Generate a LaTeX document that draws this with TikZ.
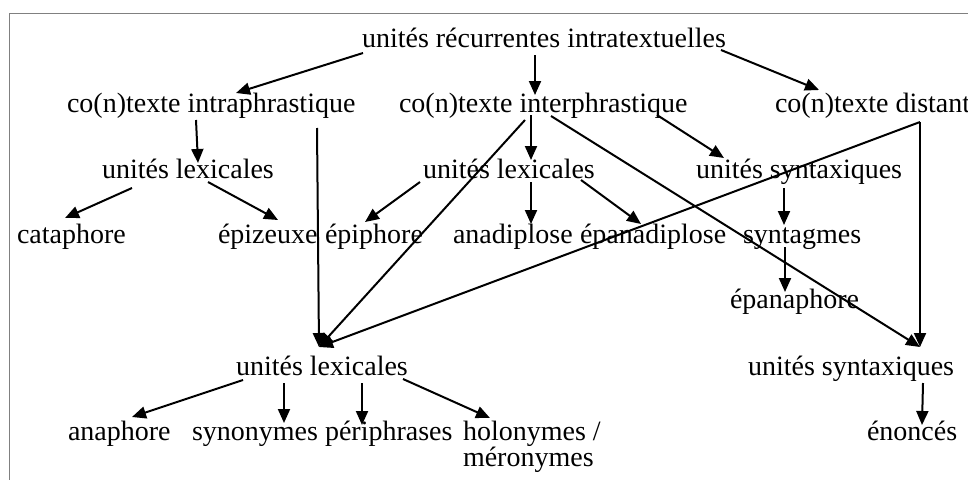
\documentclass[tikz,border=0pt]{standalone}
\usepackage{fontspec}
\setmainfont{Liberation Serif}
\usetikzlibrary{arrows.meta,calc}
\begin{document}
\begin{tikzpicture}[x=1pt,y=-1pt,
  lbl/.style={anchor=base west, inner sep=0pt, outer sep=0pt, font=\fontsize{28}{26}\selectfont},
  arr/.style={line width=2pt, -{Triangle[length=14pt,width=12pt]}}]
\useasboundingbox (0,0) rectangle (968,479);
\fill[white] (0,0) rectangle (968,479);
\draw[line width=1pt, color=black!50] (9,481) -- (9,13) -- (970,13);
% nodes
\node[lbl] (N1) at (362,47) {unités récurrentes intratextuelles};
\node[lbl] (N2) at (67,112) {co(n)texte intraphrastique};
\node[lbl] (N3) at (399,112) {co(n)texte interphrastique};
\node[lbl] (N4) at (775,112) {co(n)texte distant};
\node[lbl] (N5) at (102,178) {unités lexicales};
\node[lbl] (N6) at (423,178) {unités lexicales};
\node[lbl] (N7) at (696,178) {unités syntaxiques};
\node[lbl] (N8) at (17,243) {cataphore};
\node[lbl] (N9) at (218,243) {épizeuxe};
\node[lbl] (N10) at (325,243) {épiphore};
\node[lbl] (N11) at (453,243) {anadiplose};
\node[lbl] (N12) at (580,243) {épanadiplose};
\node[lbl] (N13) at (743,243) {syntagmes};
\node[lbl] (N14) at (730,308) {épanaphore};
\node[lbl] (N15) at (236,375) {unités lexicales};
\node[lbl] (N16) at (748,375) {unités syntaxiques};
\node[lbl] (N17) at (68,440) {anaphore};
\node[lbl] (N18) at (192,440) {synonymes};
\node[lbl] (N19) at (325,440) {périphrases};
\node[lbl, align=left] (N20) at (463,466) {holonymes /\\méronymes};
\node[lbl] (N21) at (867,440) {énoncés};
% connectors
\draw[arr] ($(N1.base west)+(1,6)$) -- ($(N2.base west)+(169,-19)$);
\draw[arr] ($(N1.base west)+(173,8)$) -- ($(N3.base west)+(136,-17)$);
\draw[arr] ($(N1.base west)+(359,3)$) -- ($(N4.base west)+(44,-22)$);
\draw[arr] ($(N2.base west)+(129,8)$) -- ($(N5.base west)+(96,-15)$);
\draw[arr] ($(N2.base west)+(250,16)$) -- ($(N15.base west)+(83,-28)$);
\draw[arr] ($(N5.base west)+(30,10)$) -- ($(N8.base west)+(48,-25)$);
\draw[arr] ($(N5.base west)+(106,4)$) -- ($(N9.base west)+(60,-23)$);
\draw[arr] ($(N6.base west)+(-3,4)$) -- ($(N10.base west)+(40,-21)$);
\draw[arr] ($(N3.base west)+(126,8)$) -- ($(N15.base west)+(83,-28)$);
\draw[arr] ($(N3.base west)+(132,3)$) -- ($(N6.base west)+(108,-18)$);
\draw[arr] ($(N3.base west)+(152,4)$) -- ($(N16.base west)+(172,-28)$);
\draw[arr] ($(N3.base west)+(258,3)$) -- ($(N7.base west)+(28,-20)$);
\draw[arr] ($(N4.base west)+(145,10)$) -- ($(N15.base west)+(83,-28)$);
\draw[arr] ($(N4.base west)+(145,10)$) -- ($(N16.base west)+(172,-28)$);
\draw[arr] ($(N6.base west)+(108,4)$) -- ($(N11.base west)+(78,-19)$);
\draw[arr] ($(N6.base west)+(158,2)$) -- ($(N12.base west)+(61,-19)$);
\draw[arr] ($(N7.base west)+(88,10)$) -- ($(N13.base west)+(41,-18)$);
\draw[arr] ($(N13.base west)+(42,4)$) -- ($(N14.base west)+(55,-16)$);
\draw[arr] ($(N16.base west)+(175,8)$) -- ($(N21.base west)+(55,-15)$);
\draw[arr] ($(N15.base west)+(7,5)$) -- ($(N17.base west)+(64,-23)$);
\draw[arr] ($(N15.base west)+(48,8)$) -- ($(N18.base west)+(92,-17)$);
\draw[arr] ($(N15.base west)+(126,8)$) -- ($(N19.base west)+(37,-15)$);
\draw[arr] ($(N15.base west)+(167,4)$) -- ($(N20.base west)+(27,-48)$);
\end{tikzpicture}
\end{document}
